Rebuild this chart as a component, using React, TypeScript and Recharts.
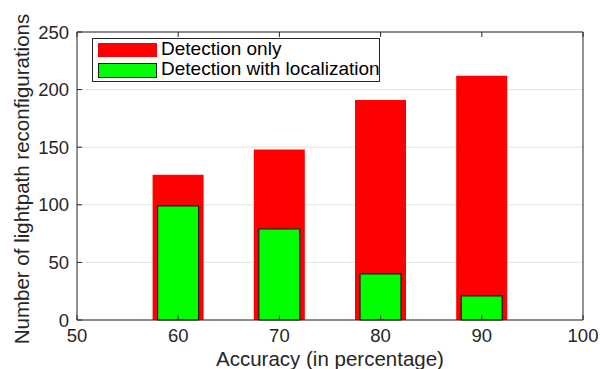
import React from 'react';
import { ComposedChart, Bar, XAxis, YAxis, CartesianGrid } from 'recharts';

const accuracy = [60, 70, 80, 90];
const detectionOnly = [126, 148, 191, 212];
const detectionLocalization = [99, 79, 40, 21];
const xTicks = [50, 60, 70, 80, 90, 100];
const yTicks = [0, 50, 100, 150, 200, 250];

const data = accuracy.map((x, i) => ({
  x,
  red: detectionOnly[i],
  green: detectionLocalization[i],
}));

const FONT = '"Liberation Sans", Arial, Helvetica, sans-serif';
const AX = '#262626';
const tickStyle = { fill: AX, fontSize: 18.5, fontFamily: FONT };
const Empty = () => <g />;

const YLabel = (props: any) => {
  const vb = props.viewBox || {};
  const cx = (vb.x || 0) + 21;
  const cy = (vb.y || 0) + (vb.height || 0) / 2 + 3;
  return (
    <text
      x={cx}
      y={cy}
      transform={`rotate(-90 ${cx} ${cy})`}
      textAnchor="middle"
      dominantBaseline="central"
      fill={AX}
      fontSize={20.5}
      fontFamily={FONT}
    >
      Number of lightpath reconfigurations
    </text>
  );
};

export default function App() {
  return (
    <div style={{ position: 'absolute', left: 0, top: 0, width: 600, height: 369, background: '#fff' }}>
      <ComposedChart
        width={600}
        height={369}
        data={data}
        margin={{ top: 0, right: 0, bottom: 0, left: 0 }}
      >
        <CartesianGrid
          xAxisId="bottom"
          yAxisId="left"
          vertical={false}
          stroke="#e3e3e3"
          strokeWidth={1}
        />
        <XAxis
          xAxisId="bottom"
          dataKey="x"
          type="number"
          domain={[50, 100]}
          ticks={xTicks}
          height={49}
          tickSize={-5}
          tickMargin={14}
          tick={tickStyle}
          stroke={AX}
          allowDataOverflow
          label={{
            value: 'Accuracy (in percentage)',
            position: 'insideBottom',
            offset: 3,
            style: { fill: AX, fontSize: 20.5, fontFamily: FONT },
          }}
        />
        <XAxis
          xAxisId="hidden"
          dataKey="x"
          type="number"
          domain={[50, 100]}
          ticks={xTicks}
          hide
          allowDataOverflow
        />
        <XAxis
          xAxisId="top"
          orientation="top"
          dataKey="x"
          type="number"
          domain={[50, 100]}
          ticks={xTicks}
          height={32}
          tickSize={-5}
          tick={Empty}
          stroke={AX}
          allowDataOverflow
        />
        <YAxis
          yAxisId="left"
          type="number"
          domain={[0, 250]}
          ticks={yTicks}
          width={77}
          tickSize={-5}
          tickMargin={13}
          tick={tickStyle}
          stroke={AX}
          label={<YLabel />}
        />
        <YAxis
          yAxisId="right"
          orientation="right"
          type="number"
          domain={[0, 250]}
          ticks={yTicks}
          width={17}
          tickSize={-5}
          tick={Empty}
          stroke={AX}
        />
        <Bar
          xAxisId="bottom"
          yAxisId="left"
          dataKey="red"
          fill="#ff0000"
          barSize={51}
          isAnimationActive={false}
        />
        <Bar
          xAxisId="hidden"
          yAxisId="left"
          dataKey="green"
          fill="#00ff00"
          stroke="#1a1a1a"
          strokeWidth={1.2}
          barSize={41}
          isAnimationActive={false}
        />
      </ComposedChart>
      <div
        style={{
          position: 'absolute',
          left: 92,
          top: 38,
          width: 288,
          height: 44,
          border: '1px solid #262626',
          background: '#fff',
          fontFamily: FONT,
          fontSize: 19,
          color: '#000',
          boxSizing: 'border-box',
        }}
      >
        <div style={{ position: 'absolute', left: 5, top: 4, width: 59, height: 14, background: '#ff0000' }} />
        <div style={{ position: 'absolute', left: 68, top: -1, lineHeight: '22px', whiteSpace: 'nowrap' }}>Detection only</div>
        <div
          style={{
            position: 'absolute',
            left: 5,
            top: 24,
            width: 59,
            height: 15,
            background: '#00ff00',
            border: '1px solid #1a1a1a',
            boxSizing: 'border-box',
          }}
        />
        <div style={{ position: 'absolute', left: 68, top: 19, lineHeight: '22px', whiteSpace: 'nowrap' }}>Detection with localization</div>
      </div>
    </div>
  );
}
